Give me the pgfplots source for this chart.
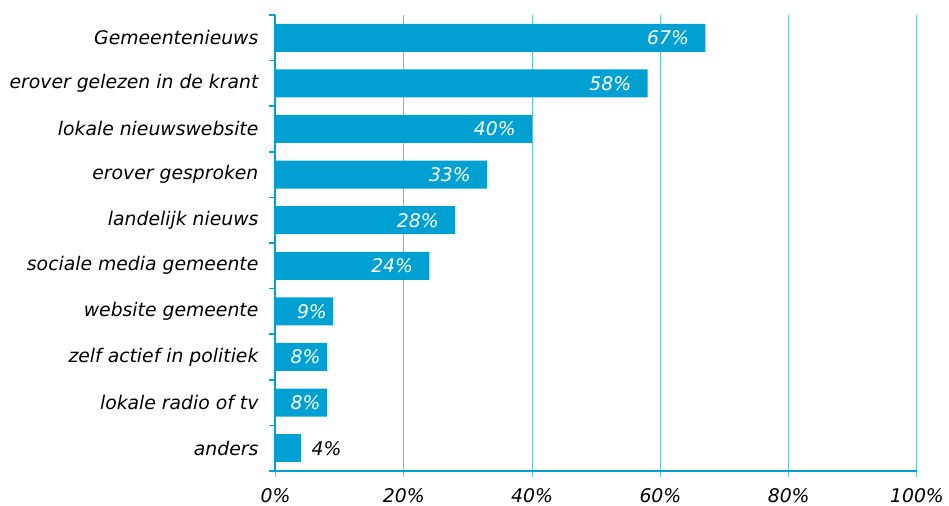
\documentclass[border=0pt]{standalone}
\usepackage{pgfplots}
\pgfplotsset{compat=1.18}
\usepackage{fontspec}
\setmainfont{DejaVu Sans}
\definecolor{barblue}{HTML}{00A0D2}
\definecolor{gridblue}{HTML}{5CC6EA}
\begin{document}
\begin{tikzpicture}
\useasboundingbox (-137.75pt,-17.5pt) rectangle (336.75pt,235.5pt);
\begin{axis}[
  at={(0pt,0pt)}, anchor=south west, scale only axis,
  width=320.75pt, height=228pt,
  /pgf/number format/assume math mode=true,
  xbar, bar width=14pt, bar shift=0pt,
  xmin=0, xmax=100, ymin=-0.5, ymax=9.5,
  axis x line=bottom, axis y line=left,
  axis line style={barblue, line width=1pt, -},
  tick align=outside,
  major tick length=3pt, minor tick length=3pt,
  xtick={0,20,...,100},
  xticklabels={0\%,20\%,40\%,60\%,80\%,100\%},
  xmajorgrids, grid style={gridblue, line width=0.5pt},
  major x tick style={gridblue, line width=0.5pt},
  ytick={0,...,9},
  yticklabels={anders, lokale radio of tv, zelf actief in politiek, website gemeente, sociale media gemeente, landelijk nieuws, erover gesproken, lokale nieuwswebsite, erover gelezen in de krant, Gemeentenieuws},
  major y tick style={draw=none},
  minor ytick={-0.5,0.5,...,9.5},
  minor y tick style={barblue, line width=0.8pt},
  ticklabel style={font=\fontsize{9.4}{11}\selectfont\itshape},
  xticklabel style={yshift=-2pt},
  yticklabel style={xshift=-2pt},
  nodes near coords={\pgfmathprintnumber{\pgfplotspointmeta}\%},
  nodes near coords style={font=\fontsize{9.4}{11}\selectfont\itshape, inner sep=0pt},
]
\addplot[fill=barblue, draw=none, nodes near coords style={white, anchor=east, xshift=-8pt}]
  coordinates {(67,9) (58,8) (40,7) (33,6) (28,5) (24,4)};
\addplot[fill=barblue, draw=none, nodes near coords style={white, anchor=east, xshift=-3pt}]
  coordinates {(9,3) (8,2) (8,1)};
\addplot[fill=barblue, draw=none, nodes near coords style={black, anchor=west, xshift=5pt}]
  coordinates {(4,0)};
\end{axis}
\end{tikzpicture}
\end{document}
